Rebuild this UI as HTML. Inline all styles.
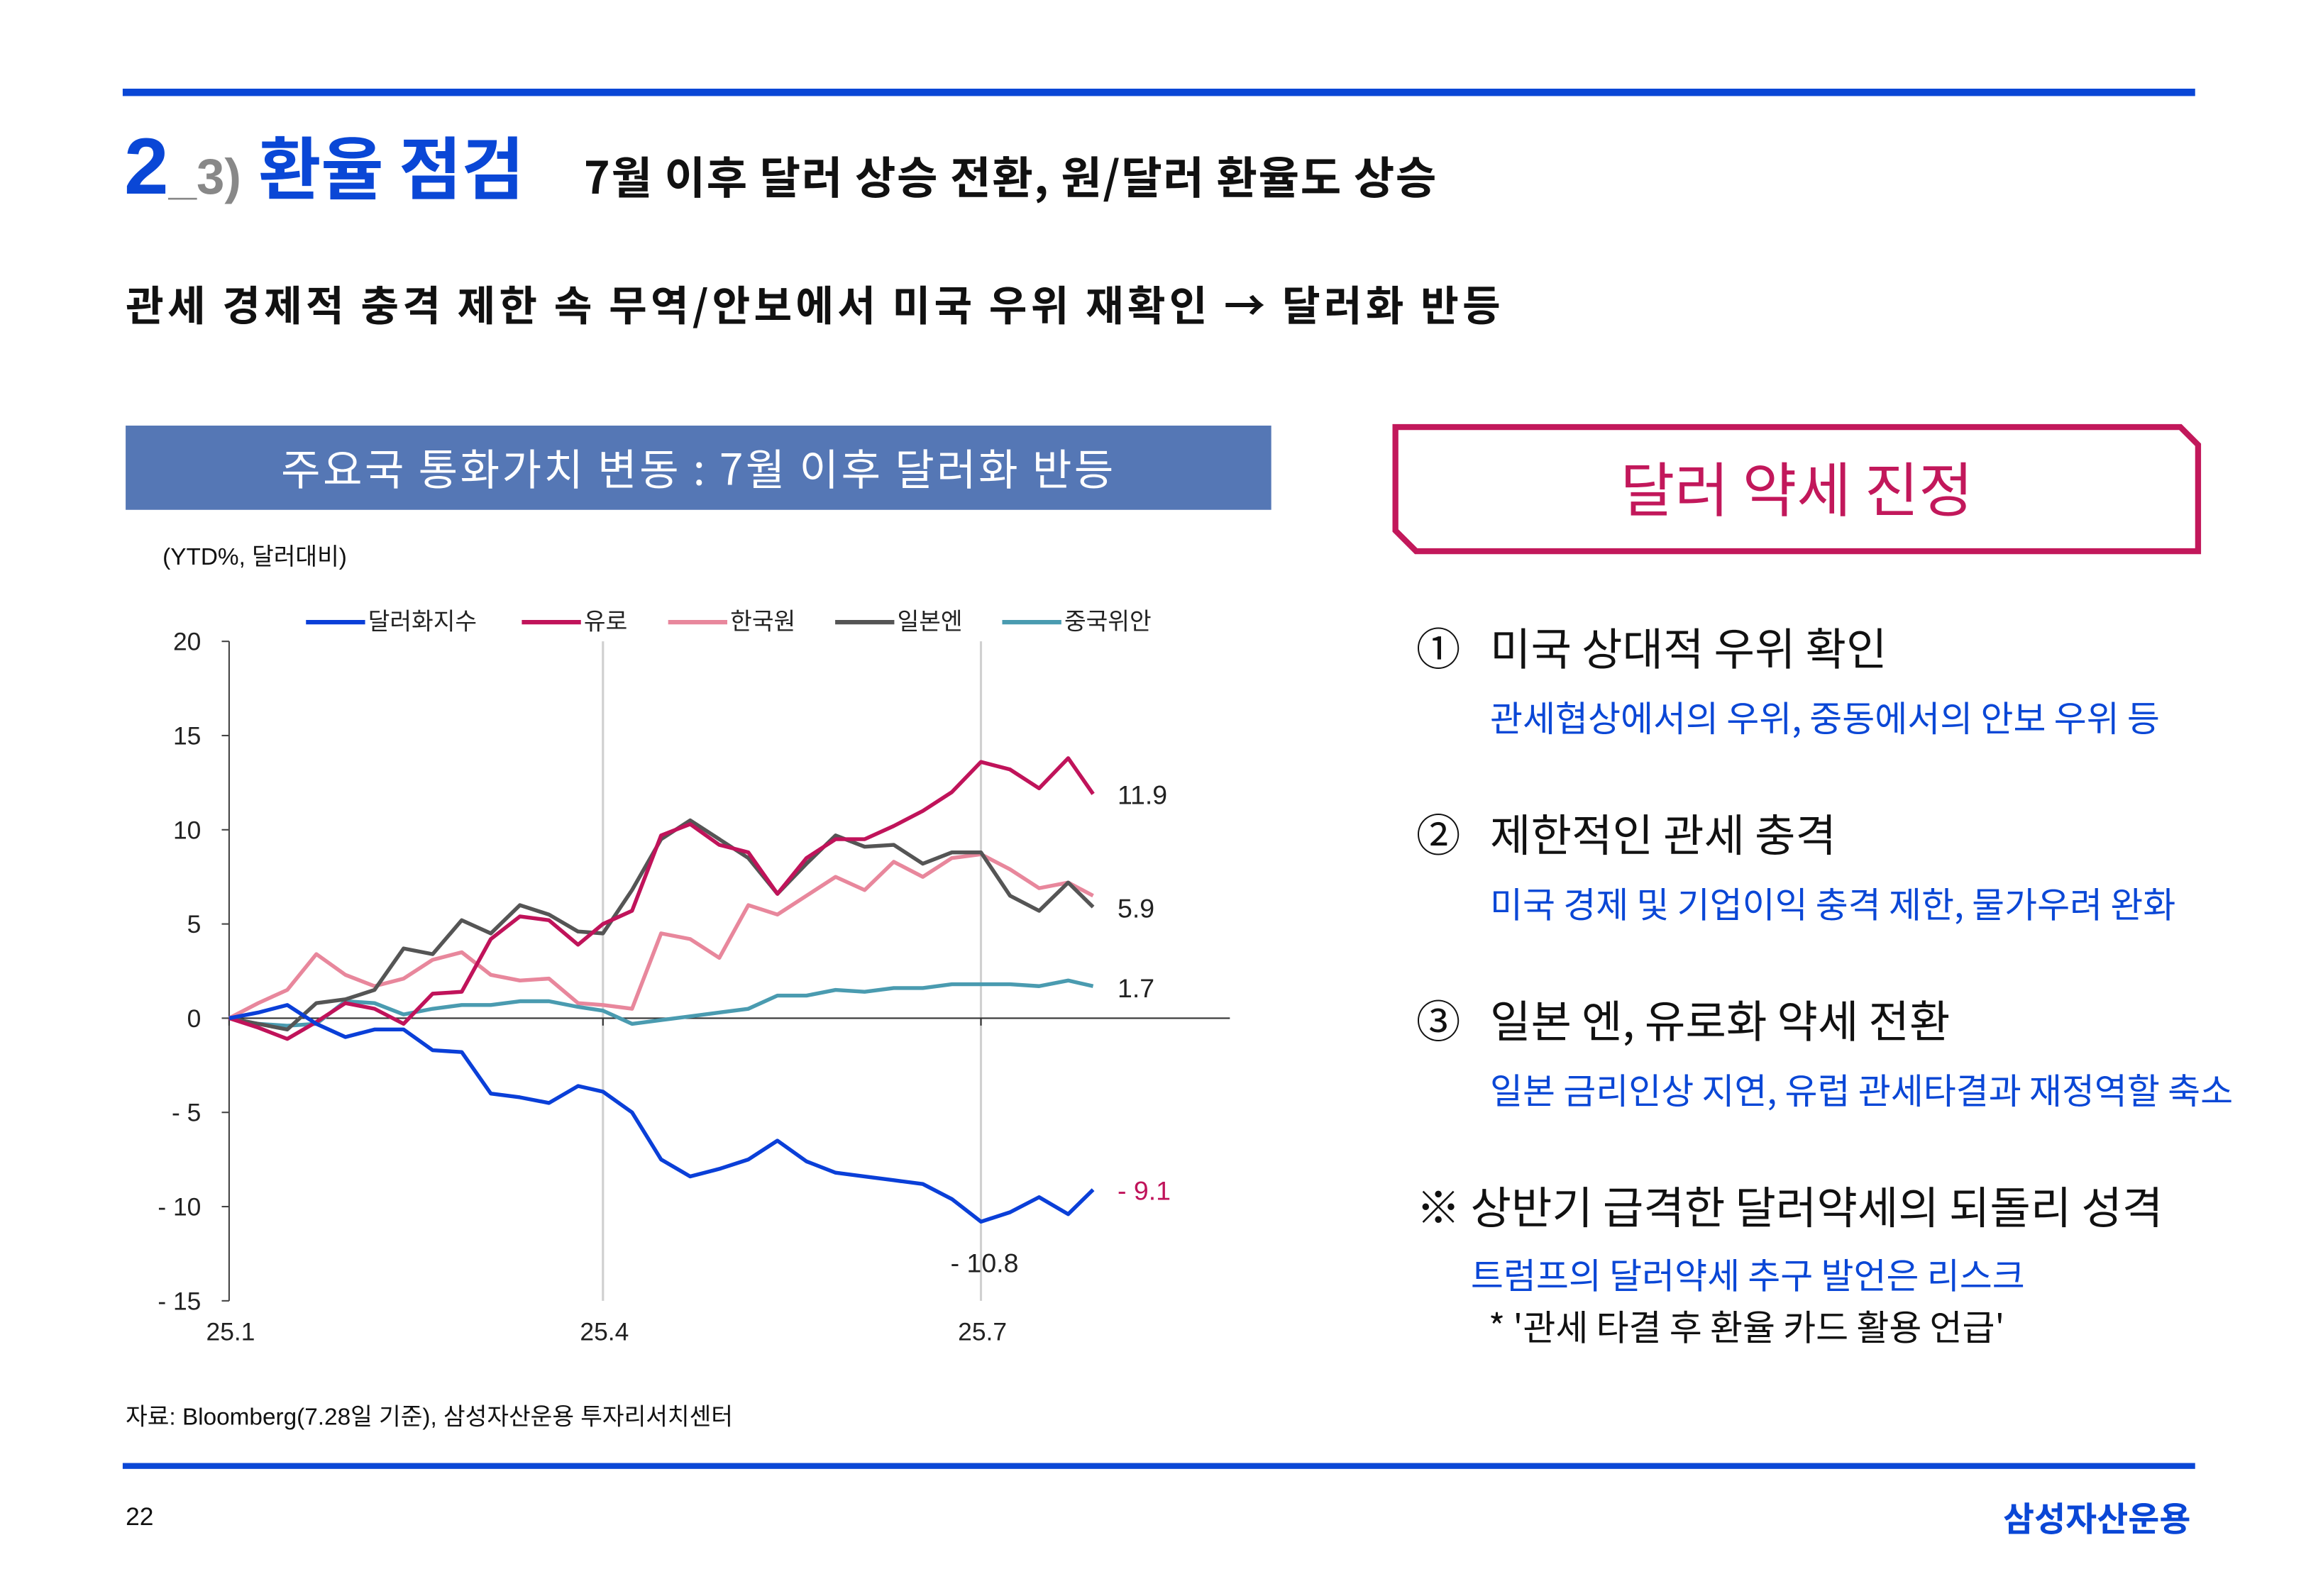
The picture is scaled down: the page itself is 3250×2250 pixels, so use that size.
<!DOCTYPE html>
<html><head><meta charset="utf-8">
<style>
html,body{margin:0;padding:0;background:#fff;}
body{width:3250px;height:2250px;overflow:hidden;}
#s{position:absolute;left:0;top:0;width:1560px;height:1080px;transform:scale(2.08333);transform-origin:0 0;font-family:"Liberation Sans","Noto Sans CJK KR",sans-serif;color:#111;}
.a{position:absolute;white-space:nowrap;}
.blue{color:#0a47d6;}
</style></head><body>
<div id="s">
<div class="a" style="left:83px;top:60px;width:1402px;height:5px;background:#0a47d6"></div>
<div class="a" style="left:84px;top:80px;line-height:64px;font-weight:bold;font-family:'Noto Sans CJK KR',sans-serif">
<span style="font-size:54px;color:#0a47d6;font-family:'Liberation Sans',sans-serif">2</span><span style="font-size:34px;color:#888;font-family:'Liberation Sans',sans-serif">_3)</span> <span style="font-size:46px;color:#0a47d6;margin-left:8px">환율 점검</span></div>
<div class="a" style="left:395px;top:96px;font-size:30px;font-weight:bold;line-height:44px;letter-spacing:0.8px;font-family:'Noto Sans CJK KR',sans-serif">7월 이후 달러 상승 전환, 원/달러 환율도 상승</div>
<div class="a" style="left:85px;top:186px;font-size:28px;font-weight:bold;line-height:40px;letter-spacing:2.5px;font-family:'Noto Sans CJK KR',sans-serif">관세 경제적 충격 제한 속 무역/안보에서 미국 우위 재확인 → 달러화 반등</div>

<div class="a" style="left:85px;top:288px;width:775px;height:57px;background:#5577b5;color:#fff;font-size:29px;line-height:57px;text-align:center;letter-spacing:1.6px;font-family:'Noto Sans CJK KR',sans-serif">주요국 통화가치 변동 : 7월 이후 달러화 반등</div>
<div class="a" style="left:110px;top:366px;font-size:16px;line-height:24px">(YTD%, 달러대비)</div>

<svg class="a" style="left:0;top:0" width="900" height="940" font-family="Liberation Sans, Noto Sans CJK KR, sans-serif" id="chart"></svg>

<div class="a" style="left:85px;top:948px;font-size:16px;line-height:24px">자료: Bloomberg(7.28일 기준), 삼성자산운용 투자리서치센터</div>
<div class="a" style="left:83px;top:990px;width:1402px;height:4px;background:#0a47d6"></div>
<div class="a" style="left:85px;top:1015px;font-size:17px;line-height:24px">22</div>
<div class="a blue" style="right:78px;top:1010px;font-size:23px;font-weight:bold;line-height:32px;font-family:'Noto Sans CJK KR',sans-serif">삼성자산운용</div>

<svg class="a" style="left:940px;top:285px" width="552" height="94">
<polygon points="4,4 535,4 547,16 547,88 18,88 4,74" fill="none" stroke="#c2185b" stroke-width="4"/>
</svg>
<div class="a" style="left:943px;top:300px;width:545px;text-align:center;font-size:40px;line-height:58px;color:#c2185b;font-family:'Noto Sans CJK KR',sans-serif">달러 약세 진정</div>

<div class="a" style="left:958px;top:415px;font-size:30px;line-height:44px;font-family:'Noto Sans CJK KR',sans-serif"><span style="display:inline-block;width:50px">①</span>미국 상대적 우위 확인</div>
<div class="a blue" style="left:1008px;top:467px;font-size:24px;line-height:36px;font-family:'Noto Sans CJK KR',sans-serif">관세협상에서의 우위, 중동에서의 안보 우위 등</div>
<div class="a" style="left:958px;top:541px;font-size:30px;line-height:44px;font-family:'Noto Sans CJK KR',sans-serif"><span style="display:inline-block;width:50px">②</span>제한적인 관세 충격</div>
<div class="a blue" style="left:1008px;top:593px;font-size:24px;line-height:36px;font-family:'Noto Sans CJK KR',sans-serif">미국 경제 및 기업이익 충격 제한, 물가우려 완화</div>
<div class="a" style="left:958px;top:667px;font-size:30px;line-height:44px;font-family:'Noto Sans CJK KR',sans-serif"><span style="display:inline-block;width:50px">③</span>일본 엔, 유로화 약세 전환</div>
<div class="a blue" style="left:1008px;top:719px;font-size:24px;line-height:36px;font-family:'Noto Sans CJK KR',sans-serif">일본 금리인상 지연, 유럽 관세타결과 재정역할 축소</div>
<div class="a" style="left:958px;top:793px;font-size:30px;line-height:44px;font-family:'Noto Sans CJK KR',sans-serif">※ 상반기 급격한 달러약세의 되돌리 성격</div>
<div class="a blue" style="left:995px;top:844px;font-size:24px;line-height:36px;font-family:'Noto Sans CJK KR',sans-serif">트럼프의 달러약세 추구 발언은 리스크</div>
<div class="a" style="left:1007px;top:879px;font-size:24px;line-height:36px;font-family:'Noto Sans CJK KR',sans-serif">* '관세 타결 후 환율 카드 활용 언급'</div>
</div>

<script>
const days = [0,7,14,21,28,35,42,49,56,63,70,77,84,90,97,104,111,118,125,132,139,146,153,160,167,174,181,188,195,202,208];
const dollarIndex = [0,0.3,0.7,-0.3,-1,-0.6,-0.6,-1.7,-1.8,-4,-4.2,-4.5,-3.6,-3.9,-5,-7.5,-8.4,-8,-7.5,-6.5,-7.6,-8.2,-8.4,-8.6,-8.8,-9.6,-10.8,-10.3,-9.5,-10.4,-9.1];
const euro = [0,-0.5,-1.1,-0.2,0.8,0.5,-0.3,1.3,1.4,4.2,5.4,5.2,3.9,5,5.7,9.7,10.3,9.2,8.8,6.6,8.5,9.5,9.5,10.2,11,12,13.6,13.2,12.2,13.8,11.9];
const krw = [0,0.8,1.5,3.4,2.3,1.7,2.1,3.1,3.5,2.3,2,2.1,0.8,0.7,0.5,4.5,4.2,3.2,6,5.5,6.5,7.5,6.8,8.3,7.5,8.5,8.7,7.9,6.9,7.2,6.5];
const jpy = [0,-0.3,-0.6,0.8,1,1.5,3.7,3.4,5.2,4.5,6,5.5,4.6,4.5,6.8,9.5,10.5,9.5,8.5,6.6,8.2,9.7,9.1,9.2,8.2,8.8,8.8,6.5,5.7,7.2,5.9];
const cny = [0,-0.3,-0.4,-0.3,0.9,0.8,0.2,0.5,0.7,0.7,0.9,0.9,0.6,0.4,-0.3,-0.1,0.1,0.3,0.5,1.2,1.2,1.5,1.4,1.6,1.6,1.8,1.8,1.8,1.7,2,1.7];
const yTicks = [20,15,10,5,0,-5,-10,-15];
const xTickDays = [0,90,181];
const xTickLabels = ['25.1','25.4','25.7'];
const seriesNames = ['달러화지수','유로','한국원','일본엔','중국위안'];

const NS='http://www.w3.org/2000/svg';
const svg=document.getElementById('chart');
const X=d=>155+d*2.81;
const Y=v=>689-v*12.75;
function mk(t,attrs,parent){const e=document.createElementNS(NS,t);for(const k in attrs)e.setAttribute(k,attrs[k]);(parent||svg).appendChild(e);return e;}

xTickDays.slice(1).forEach((d,i)=>{
  const g=mk('line',{x1:X(d),x2:X(d),y1:Y(20),y2:Y(-15),stroke:'#d0d0d0','stroke-width':1.5});
  
  
});
const ya=mk('line',{x1:155,x2:155,y1:Y(20),y2:Y(-15),stroke:'#444','stroke-width':1});


yTicks.forEach(v=>{
  mk('line',{x1:150,x2:155,y1:Y(v),y2:Y(v),stroke:'#444','stroke-width':1});
  const t=mk('text',{x:136,y:Y(v)+6,'text-anchor':'end','font-size':17,fill:'#222'});
  t.textContent=v<0?'- '+Math.abs(v):String(v);
  
  
});
const za=mk('line',{x1:155,x2:832,y1:Y(0),y2:Y(0),stroke:'#333','stroke-width':1});


xTickDays.forEach((d,i)=>{
  mk('line',{x1:X(d),x2:X(d),y1:Y(0),y2:Y(0)+5,stroke:'#333','stroke-width':1});
  const t=mk('text',{x:X(d)+1,y:907,'text-anchor':'middle','font-size':17,fill:'#222'});
  t.textContent=xTickLabels[i];
  
  
});

const series=[dollarIndex,euro,krw,jpy,cny];
const colors=['#0a3fd8','#c0135a','#e8879c','#555555','#4a9bb0'];
const order=[2,4,3,1,0];
order.forEach(i=>{
  const p=mk('polyline',{points:days.map((d,j)=>X(d)+','+Y(series[i][j])).join(' '),fill:'none',stroke:colors[i],'stroke-width':2.6,'stroke-linejoin':'round'});
  
  
});

const legX=[207,353,452,565,678];
seriesNames.forEach((n,i)=>{
  const g=mk('g',{});
  
  
  mk('line',{x1:legX[i],x2:legX[i]+40,y1:421,y2:421,stroke:colors[i],'stroke-width':3},g);
  const t=mk('text',{x:legX[i]+42,y:426,'font-size':16,fill:'#222'},g);
  t.textContent=n;
});

const endLabels=[
 {v:euro[euro.length-1],x:756,y:544,c:'#222'},
 {v:jpy[jpy.length-1],x:756,y:621,c:'#222'},
 {v:cny[cny.length-1],x:756,y:675,c:'#222'},
 {v:dollarIndex[dollarIndex.length-1],x:756,y:812,c:'#c0135a'}
];
endLabels.forEach(l=>{
  const t=mk('text',{x:l.x,y:l.y,'font-size':18,fill:l.c});
  t.textContent=l.v<0?'- '+Math.abs(l.v):String(l.v);
  
  
});
const minV=Math.min(...dollarIndex);
const mt=mk('text',{x:643,y:861,'font-size':18,fill:'#222'});
mt.textContent='- '+Math.abs(minV);


</script>
</body></html>
